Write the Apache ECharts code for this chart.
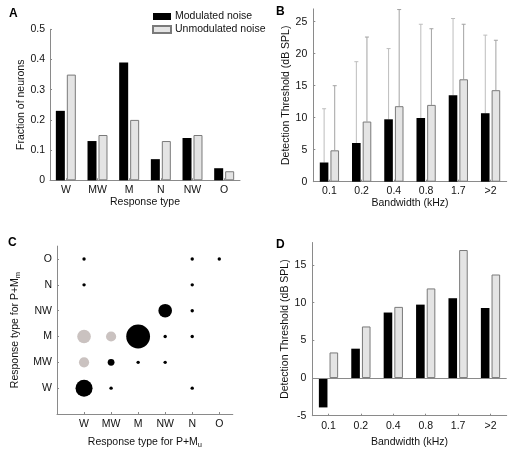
<!DOCTYPE html>
<html><head><meta charset="utf-8">
<script src="https://cdn.jsdelivr.net/npm/echarts@6/dist/echarts.min.js"></script>
<style>html,body{margin:0;padding:0;background:#fff}#c{width:510px;height:450px}</style>
</head><body><div id="c"></div>
<script>
// Panel A
const responseTypes = ['W','MW','M','N','NW','O'];
const fracModulated = [0.23,0.13,0.39,0.07,0.14,0.04];
const fracUnmodulated = [0.35,0.15,0.20,0.13,0.15,0.03];
// Panel B
const bandwidths = ['0.1','0.2','0.4','0.8','1.7','>2'];
const threshModB = [3.0,6.05,9.75,9.95,13.5,10.7];
const errModB = [8.4,12.7,11.05,14.65,12.0,12.2];
const threshUnmodB = [4.9,9.4,11.8,12.0,16.0,14.3];
const errUnmodB = [10.1,13.2,15.1,11.9,8.6,7.8];
// Panel C  [type for P+Mu, type for P+Mm, count]
const typesC = ['W','MW','M','NW','N','O'];
const sameOrderC = [
  ['W','O',1],['N','O',1],['O','O',1],
  ['W','N',1],['N','N',1],
  ['NW','NW',16],['N','NW',1],
  ['M','M',49],['NW','M',1],['N','M',1],
  ['MW','MW',4],['M','MW',1],['NW','MW',1],
  ['W','W',25],['MW','W',1],['N','W',1]
];
const changedC = [['W','M',16],['MW','M',9],['W','MW',9]];
// Panel D
const threshModD = [-3.9,3.9,8.7,9.75,10.6,9.3];
const threshUnmodD = [3.4,6.85,9.45,11.9,17.0,13.75];

const FONT = 'Liberation Sans, Arial, sans-serif';
const FS = 10.5;
const AX = '#8a8a8a';
const TXT = '#111';
const BLACK = '#000';
const GRAYFILL = '#e4e4e4';
const GRAYEDGE = '#7a7a7a';

function yAxisBase(extra){
  return Object.assign({
    type:'value', splitLine:{show:false},
    axisLine:{show:true,lineStyle:{color:AX,width:1}},
    axisTick:{show:true,inside:true,length:2,lineStyle:{color:AX}},
    axisLabel:{color:TXT,fontFamily:FONT,fontSize:FS,margin:5},
    nameLocation:'middle', nameRotate:90,
    nameTextStyle:{color:TXT,fontFamily:FONT,fontSize:FS}
  }, extra);
}
function xCatBase(extra){
  return Object.assign({
    type:'category',
    axisLine:{show:true,onZero:false,lineStyle:{color:AX,width:1}},
    axisTick:{show:true,inside:true,length:2,alignWithLabel:true,lineStyle:{color:AX}},
    axisLabel:{color:TXT,fontFamily:FONT,fontSize:FS,margin:4},
    nameLocation:'middle',
    nameTextStyle:{color:TXT,fontFamily:FONT,fontSize:FS}
  }, extra);
}
const modStyle = {color:BLACK,borderColor:BLACK,borderWidth:0};
const unmodStyle = {color:GRAYFILL,borderColor:GRAYEDGE,borderWidth:1};
const BW = 8.6, BGAP = '24%';

function errSeries(xi, yi, means, errs, sign, color){
  return {
    type:'custom', xAxisIndex:xi, yAxisIndex:yi, silent:true, z:1,
    data: means.map((m,i)=>[i, m, m+errs[i]]),
    renderItem:function(params, api){
      const off = sign*5.3;
      const p0 = api.coord([api.value(0), api.value(1)]);
      const p1 = api.coord([api.value(0), api.value(2)]);
      const x = p0[0]+off;
      return {type:'group', children:[
        {type:'line', shape:{x1:x,y1:p0[1],x2:x,y2:p1[1]}, style:{stroke:color,lineWidth:1}},
        {type:'line', shape:{x1:x-2,y1:p1[1],x2:x+2,y2:p1[1]}, style:{stroke:color,lineWidth:1}}
      ]};
    }
  };
}
function bubbleData(list){
  return list.map(d=>[typesC.indexOf(d[0])+1, typesC.indexOf(d[1])+1, d[2]]);
}
const bubbleSize = v => 3.4*Math.sqrt(v[2]);
const subRich = {a:{fontSize:FS,fontFamily:FONT,color:TXT,lineHeight:14},
                 s:{fontSize:7.5,fontFamily:FONT,color:TXT,lineHeight:14,verticalAlign:'bottom',padding:[6,0,0,0]}};

const chart = echarts.init(document.getElementById('c'), null, {renderer:'canvas'});
chart.setOption({
  animation:false,
  backgroundColor:'#fff',
  textStyle:{fontFamily:FONT},
  title:[
    {text:'A',left:4,top:3,textStyle:{fontSize:12,fontWeight:'bold',color:'#000',fontFamily:FONT}},
    {text:'B',left:271,top:1,textStyle:{fontSize:12,fontWeight:'bold',color:'#000',fontFamily:FONT}},
    {text:'C',left:3,top:232,textStyle:{fontSize:12,fontWeight:'bold',color:'#000',fontFamily:FONT}},
    {text:'D',left:271,top:234,textStyle:{fontSize:12,fontWeight:'bold',color:'#000',fontFamily:FONT}}
  ],
  legend:{
    data:['Modulated noise','Unmodulated noise'], orient:'vertical',
    left:152, top:11, padding:0, itemWidth:18, itemHeight:7, itemGap:2, selectedMode:false,
    textStyle:{color:TXT,fontFamily:FONT,fontSize:FS,padding:[0,0,0,-1]}, icon:'rect'
  },
  grid:[
    {left:50, top:29.3, width:190, height:151},
    {left:313.3, top:8.9, width:193.4, height:172.8},
    {left:57, top:246.1, width:175.8, height:168.1},
    {left:312.3, top:242.5, width:194.4, height:173.2}
  ],
  xAxis:[
    xCatBase({gridIndex:0, data:responseTypes, name:'Response type', nameGap:16}),
    xCatBase({gridIndex:1, data:bandwidths, name:'Bandwidth (kHz)', nameGap:16}),
    {gridIndex:2, type:'value', min:0, max:6.5, interval:1,
     splitLine:{show:false},
     axisLine:{show:true,onZero:false,lineStyle:{color:AX,width:1}},
     axisTick:{show:true,inside:true,length:2,customValues:[1,2,3,4,5,6],lineStyle:{color:AX}},
     axisLabel:{color:TXT,fontFamily:FONT,fontSize:FS,margin:5,customValues:[1,2,3,4,5,6],
       formatter:v=>typesC[Math.round(v)-1]||''},
     name:'{a|Response type for P+M}{s|u}', nameLocation:'middle', nameGap:21,
     nameTextStyle:{color:TXT,fontFamily:FONT,fontSize:FS,rich:subRich}},
    xCatBase({gridIndex:3, data:bandwidths, name:'Bandwidth (kHz)', nameGap:21, axisLabel:{color:TXT,fontFamily:FONT,fontSize:FS,margin:5}})
  ],
  yAxis:[
    yAxisBase({gridIndex:0, min:0, max:0.5, interval:0.1, name:'Fraction of neurons', nameGap:23}),
    yAxisBase({gridIndex:1, min:0, max:27,
      axisLabel:{color:TXT,fontFamily:FONT,fontSize:FS,margin:6,customValues:[0,5,10,15,20,25]},
      axisTick:{show:true,inside:true,length:2,customValues:[0,5,10,15,20,25],lineStyle:{color:AX}},
      name:'Detection Threshold (dB SPL)', nameGap:21}),
    yAxisBase({gridIndex:2, min:0, max:6.5,
      axisLabel:{color:TXT,fontFamily:FONT,fontSize:FS,margin:5,customValues:[1,2,3,4,5,6],
        formatter:v=>typesC[Math.round(v)-1]||''},
      axisTick:{show:true,inside:true,length:2,customValues:[1,2,3,4,5,6],lineStyle:{color:AX}},
      name:'{a|Response type for P+M}{s|m}', nameGap:35,
      nameTextStyle:{color:TXT,fontFamily:FONT,fontSize:FS,rich:subRich}}),
    yAxisBase({gridIndex:3, min:-5, max:18,
      axisLabel:{color:TXT,fontFamily:FONT,fontSize:FS,margin:6,customValues:[-5,0,5,10,15]},
      axisTick:{show:true,inside:true,length:2,customValues:[-5,0,5,10,15],lineStyle:{color:AX}},
      name:'Detection Threshold (dB SPL)', nameGap:20})
  ],
  series:[
    {name:'Modulated noise', type:'bar', xAxisIndex:0, yAxisIndex:0, data:fracModulated, barWidth:9, barGap:'22%', itemStyle:modStyle},
    {name:'Unmodulated noise', type:'bar', xAxisIndex:0, yAxisIndex:0, data:fracUnmodulated, barWidth:9, barGap:'22%', itemStyle:unmodStyle},
    {name:'Modulated noise', type:'bar', xAxisIndex:1, yAxisIndex:1, data:threshModB, barWidth:BW, barGap:BGAP, itemStyle:modStyle, z:2},
    {name:'Unmodulated noise', type:'bar', xAxisIndex:1, yAxisIndex:1, data:threshUnmodB, barWidth:BW, barGap:BGAP, itemStyle:unmodStyle, z:2},
    errSeries(1,1,threshModB,errModB,-1,'#bdbdbd'),
    errSeries(1,1,threshUnmodB,errUnmodB,1,'#a3a3a3'),
    {type:'scatter', xAxisIndex:2, yAxisIndex:2, data:bubbleData(changedC), symbolSize:bubbleSize,
     itemStyle:{color:'#cac2c0',opacity:1}, silent:true},
    {type:'scatter', xAxisIndex:2, yAxisIndex:2, data:bubbleData(sameOrderC), symbolSize:bubbleSize,
     itemStyle:{color:'#000',opacity:1}, silent:true},
    {name:'Modulated noise', type:'bar', xAxisIndex:3, yAxisIndex:3, data:threshModD, barWidth:BW, barGap:BGAP, itemStyle:modStyle,
     markLine:{silent:true, symbol:'none', label:{show:false}, lineStyle:{color:AX,type:'solid',width:1}, data:[{yAxis:0}]}},
    {name:'Unmodulated noise', type:'bar', xAxisIndex:3, yAxisIndex:3, data:threshUnmodD, barWidth:BW, barGap:BGAP, itemStyle:unmodStyle}
  ]
});
</script></body></html>
